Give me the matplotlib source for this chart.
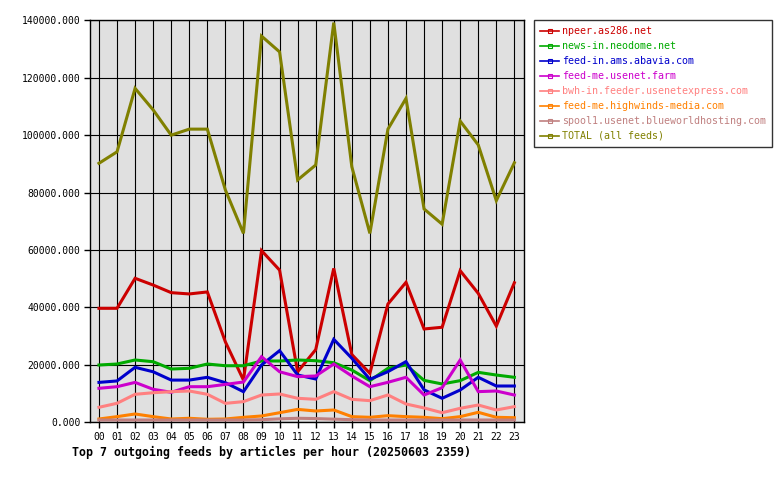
import matplotlib
matplotlib.use("Agg")
import matplotlib.pyplot as plt
from matplotlib.lines import Line2D

hours = ["%02d" % h for h in range(24)]

names = [
    "npeer.as286.net",
    "news-in.neodome.net",
    "feed-in.ams.abavia.com",
    "feed-me.usenet.farm",
    "bwh-in.feeder.usenetexpress.com",
    "feed-me.highwinds-media.com",
    "spool1.usenet.blueworldhosting.com",
    "TOTAL (all feeds)",
]
colors = ["#cc0000", "#00aa00", "#0000cc", "#cc00cc", "#ff8080", "#ff8000", "#c08080", "#808000"]

npeer = [39700, 39700, 50150, 47800, 45150, 44700, 45400, 28000, 14700, 59800, 53000, 17600,
         25300, 53600, 23600, 17060, 41200, 48750, 32500, 33100, 52800, 44900, 33500, 48600]
neodome = [19950, 20300, 21700, 21100, 18560, 18800, 20300, 19700, 19700, 21350, 21350, 21700,
           21450, 20750, 18200, 14500, 18800, 19950, 14600, 13350, 14500, 17400, 16460, 15670]
abavia = [13900, 14400, 19150, 17600, 14700, 14700, 15670, 13800, 10660, 19950, 24950, 16470,
          15080, 28900, 22300, 14970, 17640, 21120, 11300, 8360, 11250, 15670, 12640, 12640]
usenetfarm = [11840, 12400, 13900, 11500, 10450, 12400, 12400, 13200, 14030, 22850, 17600, 15900,
              16130, 20300, 16130, 12400, 13930, 15670, 9500, 12050, 21700, 10680, 10900, 9500]
usenetexpress = [5220, 6620, 9750, 10300, 10660, 10900, 9750, 6600, 7200, 9500, 9860, 8360,
                 8000, 10680, 8000, 7540, 9520, 6380, 5000, 3340, 4870, 6020, 4290, 5450]
highwinds = [1150, 1970, 2900, 1970, 1150, 1400, 1050, 1150, 1740, 2200, 3340, 4500,
             3940, 4290, 1970, 1740, 2310, 1970, 1740, 1260, 1970, 3480, 1740, 1600]
blueworld = [800, 800, 800, 800, 800, 800, 800, 800, 800, 900, 1200, 1400,
             1300, 1100, 900, 800, 800, 800, 800, 800, 800, 800, 800, 800]
total = [90200, 94200, 116300, 108800, 100000, 102100, 102100, 80900, 65800, 134500, 129000, 84400,
         89600, 139200, 89000, 65800, 102100, 112800, 74300, 69000, 104900, 96600, 77200, 90400]

series = [npeer, neodome, abavia, usenetfarm, usenetexpress, highwinds, blueworld, total]
yticks = list(range(0, 140001, 20000))
title = "Top 7 outgoing feeds by articles per hour (20250603 2359)"

mono = "DejaVu Sans Mono"

fig = plt.figure(figsize=(7.8, 4.8), dpi=100)
ax = fig.add_axes([90.3 / 780, 1 - 422.3 / 480, (524.3 - 90.3) / 780, (422.3 - 20.3) / 480])
ax.set_facecolor("#e0e0e0")

x = list(range(24))
for vals, c in zip(series, colors):
    ax.plot(x, vals, color=c, lw=2.2, solid_joinstyle="miter", zorder=3)

ax.set_xlim(-0.48, 23.55)
ax.set_ylim(0, 140000)
ax.set_xticks(x)
ax.set_xticklabels(hours, fontfamily=mono, fontsize=7)
ax.set_yticks(yticks)
ax.set_yticklabels(["%.3f" % v for v in yticks], fontfamily=mono, fontsize=7)
ax.grid(True, color="black", lw=0.8, zorder=1)
ax.set_axisbelow(True)
for s in ax.spines.values():
    s.set_color("black")
    s.set_linewidth(1.0)
ax.tick_params(axis="both", direction="out", length=4, width=1, color="black", pad=3)

fig.text(72 / 780, 1 - 452 / 480, title, fontfamily=mono, fontweight="bold", fontsize=8.4,
         ha="left", va="center")

handles = [Line2D([0], [0], color=c, lw=1.2, marker="s", markersize=2.6, fillstyle="none",
                  markeredgewidth=0.8) for c in colors]
leg = fig.legend(handles, names, loc="upper left", bbox_to_anchor=(534 / 780, 1 - 20 / 480),
                 bbox_transform=fig.transFigure, frameon=True, fancybox=False, numpoints=1,
                 prop={"family": mono, "size": 7.2}, handlelength=1.9, handletextpad=0.3,
                 labelspacing=0.5, borderpad=0.6, borderaxespad=0)
leg.get_frame().set_edgecolor("black")
leg.get_frame().set_linewidth(1.0)
for txt, c in zip(leg.get_texts(), colors):
    txt.set_color(c)

fig.savefig("out.png", dpi=100)
